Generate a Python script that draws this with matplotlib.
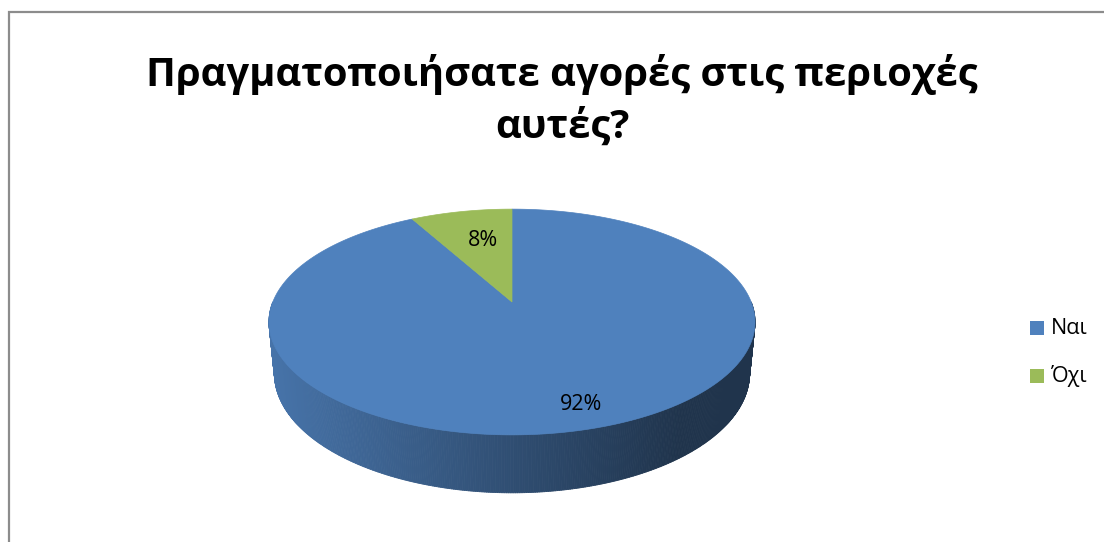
import numpy as np
import matplotlib
matplotlib.use("Agg")
import matplotlib.pyplot as plt
from matplotlib.collections import PolyCollection
from matplotlib.patches import Polygon, Rectangle

# --- data -------------------------------------------------------------
categories = ["Ναι", "Όχι"]
shares = [92, 8]
pct_labels = ["92%", "8%"]
colors = ["#4f81bd", "#9bbb59"]
title_lines = ["Πραγματοποιήσατε αγορές στις περιοχές", "αυτές?"]

# --- canvas -----------------------------------------------------------
W, H = 1104, 542
fig = plt.figure(figsize=(W / 100, H / 100), dpi=100)
ax = fig.add_axes([0, 0, 1, 1])
ax.set_xlim(0, W)
ax.set_ylim(H, 0)
ax.axis("off")

FONT = ["Open Sans", "DejaVu Sans"]

# --- simple perspective camera for the tilted pie ---------------------
phi = np.radians(27.2)          # elevation
cph, sph = np.cos(phi), np.sin(phi)
dist = 5.02                     # camera distance (in pie radii)
px_scale = 239.2                # pixels per radius at the pie centre
cx, cy = 512.0, 302.0           # screen position of the pie centre
thick = 0.244                   # pie thickness (in pie radii)


def project(x, y, z):
    x, y, z = np.asarray(x, float), np.asarray(y, float), np.asarray(z, float)
    depth = dist + y * cph - z * sph
    up = y * sph + z * cph
    f = px_scale * dist
    return cx + f * x / depth, cy - f * up / depth


def rgb(hexcol):
    hexcol = hexcol.lstrip("#")
    return np.array([int(hexcol[i:i + 2], 16) for i in (0, 2, 4)]) / 255.0


# slice angles: start at 12 o'clock, run clockwise
fracs = np.array(shares, float) / np.sum(shares)
bounds = np.concatenate([[0], np.cumsum(fracs)])
starts = np.pi / 2 - 2 * np.pi * bounds[:-1]
ends = np.pi / 2 - 2 * np.pi * bounds[1:]


def slice_of(t):
    # index of the slice containing plane angle t
    rel = ((np.pi / 2 - t) % (2 * np.pi)) / (2 * np.pi)
    return int(np.searchsorted(bounds, rel, side="right") - 1)


# --- outer side wall (front half), shaded left->right -----------------
ts = np.linspace(np.pi, 2 * np.pi, 400)
quads, qcols = [], []
x_left, x_right = project(-1.0, 0.0, 0.0)[0] - 4, project(1.0, 0.0, 0.0)[0] + 4
for t0, t1 in zip(ts[:-1], ts[1:]):
    xa, ya = project(np.cos([t0, t1]), np.sin([t0, t1]), [0, 0])
    xb, yb = project(np.cos([t1, t0]), np.sin([t1, t0]), [-thick, -thick])
    quads.append(np.column_stack([np.r_[xa, xb], np.r_[ya, yb]]))
    xm = 0.5 * (xa.mean() + xb.mean())
    u = np.clip((xm - x_left) / (x_right - x_left), 0, 1)
    shade = 0.90 - 0.50 * min(u / 0.85, 1.0)
    base = rgb(colors[slice_of(0.5 * (t0 + t1))])
    qcols.append(base * shade)
ax.add_collection(PolyCollection(quads, facecolors=qcols, edgecolors=qcols,
                                 linewidths=0.6, zorder=2))

# --- top faces ---------------------------------------------------------
for i, (a0, a1) in enumerate(zip(starts, ends)):
    tt = np.linspace(a0, a1, 300)
    xs, ys = project(np.r_[0, np.cos(tt)], np.r_[0, np.sin(tt)], np.zeros(len(tt) + 1))
    ax.add_patch(Polygon(np.column_stack([xs, ys]), closed=True,
                         facecolor=colors[i], edgecolor=colors[i],
                         linewidth=0.5, zorder=3))

# --- percentage labels -------------------------------------------------
label_r = [0.843, 0.643]
label_da = [np.radians(2.6), np.radians(-2.3)]
for i, (a0, a1) in enumerate(zip(starts, ends)):
    mid = 0.5 * (a0 + a1) + label_da[i]
    lx, ly = project(label_r[i] * np.cos(mid), label_r[i] * np.sin(mid), 0.0)
    ax.text(lx, ly, pct_labels[i], ha="center", va="center",
            fontsize=15.5, family=FONT, color="black", zorder=5)

# --- title -------------------------------------------------------------
title_size = 29
t1 = ax.text(562, 86, title_lines[0], ha="center", va="baseline",
             fontsize=title_size, fontweight="bold", family=FONT, zorder=5)
fig.canvas.draw()
wpx = t1.get_window_extent().width
title_size *= 830.0 / wpx
t1.set_fontsize(title_size)
ax.text(562, 138, title_lines[1], ha="center", va="baseline",
        fontsize=title_size, fontweight="bold", family=FONT, zorder=5)

# --- legend ------------------------------------------------------------
leg_y = [328, 376]
for i, name in enumerate(categories):
    ax.add_patch(Rectangle((1030, leg_y[i] - 7), 14, 14, facecolor=colors[i],
                           edgecolor="none", zorder=5))
    ax.text(1051, leg_y[i], name, ha="left", va="center", fontsize=15.5,
            family=FONT, zorder=5)

# --- chart-area frame (top and left edges in view) ---------------------
ax.plot([8.5, 8.5, W + 5], [H + 5, 11.5, 11.5], color="#8c8c8c",
        linewidth=1.6, solid_joinstyle="miter", zorder=6, clip_on=False)

fig.savefig("out.png", dpi=100, facecolor="white")
